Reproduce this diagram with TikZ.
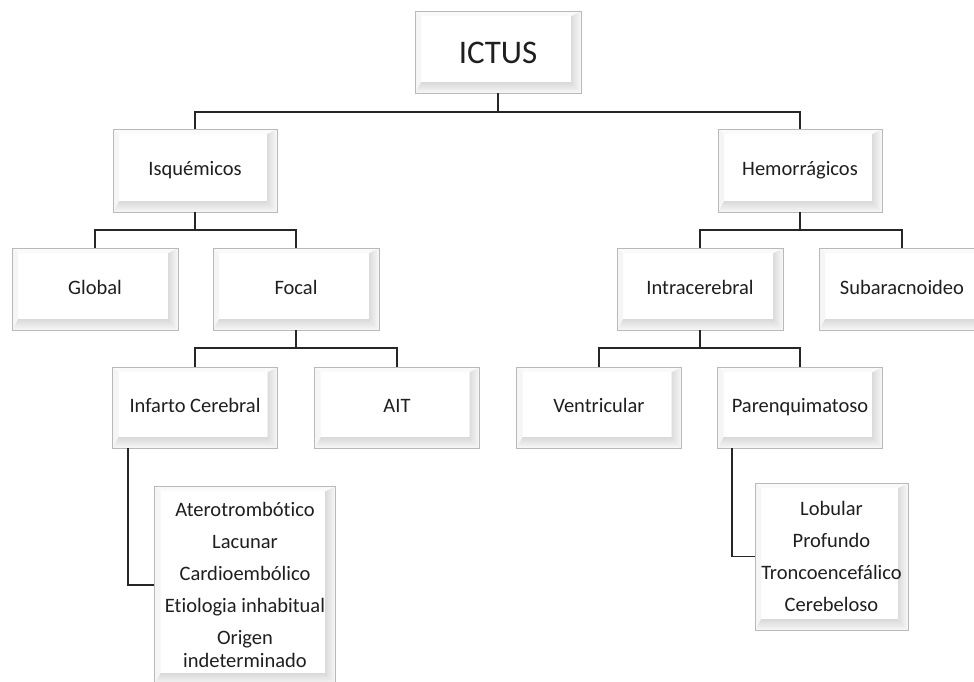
\documentclass[tikz,border=0pt]{standalone}
\usepackage{fontspec}
\setmainfont{Carlito}[Ligatures=NoCommon]
\begin{document}
\begin{tikzpicture}[x=1pt,y=-1pt]
\tikzset{
  bev/.style={draw=gray!55, line width=0.9pt, fill=white, inner sep=2pt, align=center,
    text=black!88, font=\fontsize{20.5}{22.5}\selectfont,
    path picture={
      \coordinate (SW) at (path picture bounding box.south west);
      \coordinate (SE) at (path picture bounding box.south east);
      \coordinate (NE) at (path picture bounding box.north east);
      \coordinate (NW) at (path picture bounding box.north west);
      \shade[top color=gray!30, bottom color=gray!6] (SW) -- (SE) -- ([shift={(-10pt,11pt)}]SE) -- ([shift={(6pt,11pt)}]SW) -- cycle;
      \shade[left color=gray!28, right color=gray!5] (SE) -- (NE) -- ([shift={(-10pt,-5pt)}]NE) -- ([shift={(-10pt,11pt)}]SE) -- cycle;
      \fill[gray!4] (NE) -- (NW) -- ([shift={(6pt,-5pt)}]NW) -- ([shift={(-10pt,-5pt)}]NE) -- cycle;
      \fill[gray!8] (NW) -- (SW) -- ([shift={(6pt,11pt)}]SW) -- ([shift={(6pt,-5pt)}]NW) -- cycle;
    }},
  oneline/.style={text height=14.5pt, text depth=4.5pt},
  conn/.style={draw=black!85, line width=1.8pt}
}
\clip (0,0) rectangle (974,681);
\fill[white] (0,0) rectangle (974,681);

% level 0
\node[bev, minimum width=166pt, minimum height=82pt, font=\fontsize{33}{37}\selectfont, text height=23pt, text depth=0pt] (ictus) at (498,52) {ICTUS};
% level 1
\node[bev, oneline, minimum width=164pt, minimum height=83pt] (isq) at (195,170.5) {Isquémicos};
\node[bev, oneline, minimum width=164pt, minimum height=83pt] (hem) at (800,170.5) {Hemorrágicos};
% level 2
\node[bev, oneline, minimum width=166pt, minimum height=82pt] (glo) at (95,289) {Global};
\node[bev, oneline, minimum width=166pt, minimum height=82pt] (foc) at (296,289) {Focal};
\node[bev, oneline, minimum width=166pt, minimum height=82pt] (intra) at (700,289) {Intracerebral};
\node[bev, oneline, minimum width=166pt, minimum height=82pt] (suba) at (902,289) {Subaracnoideo};
% level 3
\node[bev, oneline, minimum width=165pt, minimum height=81pt] (inf) at (195,407.5) {Infarto Cerebral};
\node[bev, oneline, minimum width=165pt, minimum height=81pt] (ait) at (397,407.5) {AIT};
\node[bev, oneline, minimum width=165pt, minimum height=81pt] (ven) at (599,407.5) {Ventricular};
\node[bev, oneline, minimum width=165pt, minimum height=81pt] (par) at (800,407.5) {Parenquimatoso};
% level 4
\node[bev, minimum width=181pt, minimum height=198pt] (sub1) at (245,585)
  {Aterotrombótico\\[9.5pt] Lacunar\\[9.5pt] Cardioembólico\\[9.5pt] Etiologia inhabitual\\[9.5pt] Origen\\ indeterminado};
\node[bev, minimum width=153pt, minimum height=147pt] (sub2) at (831.5,556.5)
  {Lobular\\[9.5pt] Profundo\\[9.5pt] Troncoencefálico\\[9.5pt] Cerebeloso};

% connectors
\coordinate (b0) at (498,112);
\draw[conn] (ictus.south) -- (b0);
\draw[conn] (b0) -| (isq.north);
\draw[conn] (b0) -| (hem.north);

\coordinate (b1) at (195,230);
\draw[conn] (isq.south) -- (b1);
\draw[conn] (b1) -| (glo.north);
\draw[conn] (b1) -| (foc.north);

\coordinate (b2) at (800,230);
\draw[conn] (hem.south) -- (b2);
\draw[conn] (b2) -| (intra.north);
\draw[conn] (b2) -| (suba.north);

\coordinate (b3) at (296,348);
\draw[conn] (foc.south) -- (b3);
\draw[conn] (b3) -| (inf.north);
\draw[conn] (b3) -| (ait.north);

\coordinate (b4) at (700,348);
\draw[conn] (intra.south) -- (b4);
\draw[conn] (b4) -| (ven.north);
\draw[conn] (b4) -| (par.north);

\draw[conn] ([xshift=16pt]inf.south west) |- (sub1.west);
\draw[conn] ([xshift=15pt]par.south west) |- (sub2.west);
\end{tikzpicture}
\end{document}
